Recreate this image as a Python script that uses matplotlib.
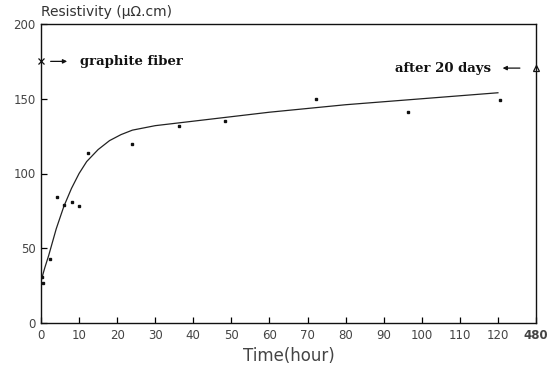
import matplotlib
matplotlib.use("Agg")
import matplotlib.pyplot as plt

# measured points (time in hours, resistivity in micro-ohm cm)
point_time = [0.3, 0.4, 2.4, 4.1, 6.1, 8.2, 10.0, 12.4, 24.0, 36.3, 48.3, 72.2, 96.5, 120.5]
point_res = [31, 27, 43, 84, 79, 81, 78, 114, 120, 131.5, 135, 150, 141, 149]

# fitted curve
curve_time = [0, 1, 2, 4, 6, 8, 10, 12, 15, 18, 21, 24, 30, 40, 50, 60, 70, 80, 90, 100, 110, 120]
curve_res = [28, 37, 45, 63, 78, 90, 100, 108, 116, 122, 126, 129, 132, 135, 138, 141, 143.5, 146, 148, 150, 152, 154]

# reference markers
fiber_time, fiber_res = 0, 175
aged_pos, aged_res = 130, 170.5   # plotted at the "480" position

x_ticks = [0, 10, 20, 30, 40, 50, 60, 70, 80, 90, 100, 110, 120, 130]
x_ticklabels = ["0", "10", "20", "30", "40", "50", "60", "70", "80", "90", "100", "110", "120", "480"]
y_ticks = [0, 50, 100, 150, 200]
y_ticklabels = ["0", "50", "100", "150", "200"]

fig = plt.figure(figsize=(5.52, 3.72), dpi=100)
ax = fig.add_axes([41/552, 1-323/372, (536-41)/552, (323-24)/372])

ax.plot(curve_time, curve_res, color="#222222", lw=0.9)
ax.plot(point_time, point_res, ls="none", marker="s", ms=1.8, color="#111111")
ax.plot([fiber_time], [fiber_res], ls="none", marker="x", ms=4, mew=0.9, color="#111111", clip_on=False)
ax.plot([aged_pos], [aged_res], ls="none", marker="^", ms=5, mfc="white", mec="#111111", mew=0.9, clip_on=False)

ax.set_xlim(0, 130)
ax.set_ylim(0, 200)
ax.set_xticks(x_ticks)
ax.set_xticklabels(x_ticklabels)
ax.set_yticks(y_ticks)
ax.set_yticklabels(y_ticklabels)
for lab in ax.get_xticklabels():
    if lab.get_text() == "480":
        lab.set_fontweight("bold")
        lab.set_color("#000000")
ax.tick_params(direction="in", length=4, width=0.9, labelsize=8.5, labelcolor="#444444", pad=4)
for s in ax.spines.values():
    s.set_linewidth(1.0)
    s.set_color("#111111")

ax.set_xlabel("Time(hour)", fontsize=12, color="#444444", labelpad=4)
fig.text(41/552, 1-12/372, "Resistivity (μΩ.cm)", fontsize=10, color="#333333", ha="left", va="center")

ax.annotate("", xy=(7.6, fiber_res), xytext=(1.8, fiber_res),
            arrowprops=dict(arrowstyle="-|>", color="#111111", lw=0.9, mutation_scale=6))
ax.text(10.2, fiber_res, "graphite fiber", family="DejaVu Serif", fontweight="bold",
        fontsize=9.5, ha="left", va="center", color="#111111")

ax.annotate("", xy=(120.5, 170.5), xytext=(126.5, 170.5),
            arrowprops=dict(arrowstyle="-|>", color="#111111", lw=0.9, mutation_scale=6))
ax.text(118.2, 170.5, "after 20 days", family="DejaVu Serif", fontweight="bold",
        fontsize=9.5, ha="right", va="center", color="#111111")

fig.savefig("out.png", dpi=100)
